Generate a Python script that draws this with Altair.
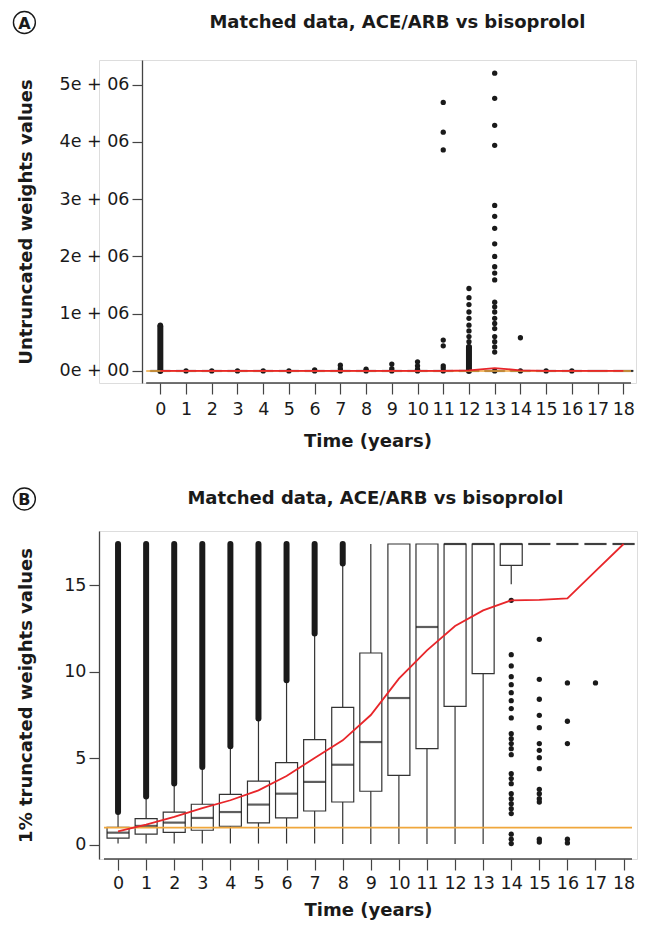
import altair as alt
import pandas as pd

years = list(range(19))

# ---------------- Panel B: 1% truncated weights (box statistics) ----------------
b_q1 = [0.40, 0.62, 0.73, 0.85, 1.08, 1.27, 1.56, 1.96, 2.48, 3.10, 4.02, 5.56, 8.00, 9.89, 16.14, 17.37, 17.37, 17.37, 17.37]
b_med = [0.71, 1.10, 1.29, 1.56, 1.90, 2.33, 2.96, 3.64, 4.63, 5.94, 8.48, 12.58, 17.37, 17.37, 17.37, 17.37, 17.37, 17.37, 17.37]
b_q3 = [1.02, 1.52, 1.90, 2.35, 2.92, 3.69, 4.75, 6.08, 7.94, 11.08, 17.37, 17.37, 17.37, 17.37, 17.37, 17.37, 17.37, 17.37, 17.37]
b_wlo = [0.08, 0.08, 0.08, 0.08, 0.08, 0.08, 0.08, 0.08, 0.06, 0.05, 0.05, 0.05, 0.05, 0.05, 15.04, 17.37, 17.37, 17.37, 17.37]
b_whi = [1.81, 2.71, 3.48, 4.40, 5.60, 7.19, 9.41, 12.10, 16.10, 17.37, 17.37, 17.37, 17.37, 17.37, 17.37, 17.37, 17.37, 17.37, 17.37]
b_mean = [0.79, 1.17, 1.62, 2.13, 2.58, 3.15, 3.98, 5.02, 6.04, 7.50, 9.60, 11.23, 12.64, 13.54, 14.12, 14.15, 14.23, 15.80, 17.37]

# dense outlier runs (years 0-8): from lower end up to the truncation value
b_band_year = [0, 1, 2, 3, 4, 5, 6, 7, 8]
b_band_lo = [1.90, 2.80, 3.55, 4.50, 5.70, 7.30, 9.50, 12.20, 16.25]
b_band_hi = [17.37, 17.37, 17.37, 17.37, 17.37, 17.37, 17.37, 17.37, 17.37]

# individual outliers
b_out14 = [14.12, 10.98, 10.33, 9.71, 9.25, 8.79, 8.33, 7.87, 7.33, 6.42, 6.13, 5.85, 5.56, 5.21,
           4.11, 3.83, 3.54, 2.96, 2.67, 2.38, 2.09, 1.81, 0.62, 0.33, 0.08]
b_out15 = [11.87, 9.56, 8.41, 7.48, 6.77, 5.85, 5.46, 5.04, 4.40, 3.21, 2.96, 2.67, 2.48, 0.33, 0.17]
b_out16 = [9.35, 7.14, 5.85, 0.33, 0.12]
b_out17 = [9.35]

# ---------------- Panel A: untruncated weights (millions) ----------------
a_mean = [0.0, 0.0, 0.0, 0.0, 0.0, 0.0, 0.0, 0.0, 0.0, 0.0, 0.0, 0.003, 0.012, 0.05, 0.012, 0.0, 0.0, 0.0, 0.0]
a_band_year = [0, 12]
a_band_lo = [0.0, 0.0]
a_band_hi = [0.78, 0.42]
a_out0 = [0.80]
a_out1 = [0.0]
a_out2 = [0.0]
a_out3 = [0.0]
a_out4 = [0.0]
a_out5 = [0.0]
a_out6 = [0.02, 0.0]
a_out7 = [0.10, 0.04, 0.0]
a_out8 = [0.03, 0.0]
a_out9 = [0.12, 0.04, 0.0]
a_out10 = [0.16, 0.09, 0.03, 0.0]
a_out11 = [4.69, 4.17, 3.86, 0.54, 0.44, 0.09, 0.05, 0.0]
a_out12 = [1.44, 1.28, 1.16, 1.03, 0.92, 0.80, 0.70, 0.60, 0.51, 0.42]
a_out13 = [5.20, 4.76, 4.29, 3.94, 2.89, 2.70, 2.49, 2.22, 2.00, 1.82, 1.71, 1.59, 1.20, 1.12,
           1.03, 0.92, 0.83, 0.74, 0.60, 0.51, 0.42, 0.33, 0.0]
a_out14 = [0.58, 0.0]
a_out15 = [0.0]
a_out16 = [0.0]

title_text = "Matched data, ACE/ARB vs bisoprolol"

# ---------------- tables ----------------
df_b = pd.DataFrame({"year": years, "q1": b_q1, "med": b_med, "q3": b_q3,
                     "wlo": b_wlo, "whi": b_whi, "mean": b_mean})
df_b_band = pd.DataFrame({"year": b_band_year, "lo": b_band_lo, "hi": b_band_hi})
b_outs = {14: b_out14, 15: b_out15, 16: b_out16, 17: b_out17}
df_b_out = pd.DataFrame([{"year": k, "v": v} for k, vs in b_outs.items() for v in vs])

df_a = pd.DataFrame({"year": years, "q1": [v / 1e6 for v in b_q1], "med": [v / 1e6 for v in b_med],
                     "q3": [v / 1e6 for v in b_q3], "mean": a_mean})
df_a_band = pd.DataFrame({"year": a_band_year, "lo": a_band_lo, "hi": a_band_hi})
a_outs = {0: a_out0, 1: a_out1, 2: a_out2, 3: a_out3, 4: a_out4, 5: a_out5, 6: a_out6, 7: a_out7,
          8: a_out8, 9: a_out9, 10: a_out10, 11: a_out11, 12: a_out12, 13: a_out13, 14: a_out14,
          15: a_out15, 16: a_out16}
df_a_out = pd.DataFrame([{"year": k, "v": v} for k, vs in a_outs.items() for v in vs])

FONT = "DejaVu Sans"
INK = "#1a1a1a"
AX = "#444444"
RED = "#E8262A"
ORANGE = "#F0A73C"
LFS = 17.5   # tick labels
TFS = 18     # axis titles / chart titles


def x_axis(label_pad, title_pad):
    return alt.Axis(values=years, title="Time (years)", tickSize=11, tickWidth=1.2, tickColor=AX,
                    domain=False, labelFontSize=LFS, labelPadding=label_pad,
                    titleFontSize=TFS, titleFontWeight="bold", titlePadding=title_pad, grid=False,
                    labelOverlap=False, labelFlush=False, labelColor=INK, titleColor=INK,
                    format="d")


def panel(df, df_band, df_out, xdom, xline, ydom, W, H, yaxis, box_px, letter, circ_dx, circ_dy,
          title_dx, title_dy, ref, label_pad, title_pad):
    X = lambda f: alt.X(f"{f}:Q", scale=alt.Scale(domain=xdom, nice=False, zero=False),
                        axis=x_axis(label_pad, title_pad))
    Y = lambda f: alt.Y(f"{f}:Q", scale=alt.Scale(domain=ydom, nice=False, zero=False), axis=yaxis)
    base = alt.Chart(df)
    layers = []
    if "wlo" in df.columns:
        layers.append(base.mark_rule(color="#333333", strokeWidth=1.2).encode(
            x=X("year"), y=Y("wlo"), y2="whi"))
    layers.append(base.mark_bar(size=box_px, fill="white", stroke="#333333", strokeWidth=1.2).encode(
        x=X("year"), y=Y("q1"), y2="q3"))
    layers.append(base.mark_tick(orient="horizontal", size=box_px, thickness=2.2, color=INK).encode(
        x=X("year"), y=Y("med")))
    layers.append(alt.Chart(df_band).mark_rule(color=INK, strokeWidth=6, strokeCap="round").encode(
        x=X("year"), y=Y("lo"), y2="hi"))
    layers.append(alt.Chart(df_out).mark_circle(size=28, color=INK, opacity=1).encode(
        x=X("year"), y=Y("v")))
    lines = pd.DataFrame({"x0": [xline[0]], "x1": [xline[1]], "h": [ref], "b": [ydom[0]]})
    # x-axis line (L-shaped frame bottom)
    layers.append(alt.Chart(lines).mark_rule(color=AX, strokeWidth=1.3).encode(
        x=X("x0"), x2="x1", y=Y("b")))
    # reference line at weight = 1
    layers.append(alt.Chart(lines).mark_rule(color=ORANGE, strokeWidth=1.6).encode(
        x=X("x0"), x2="x1", y=Y("h")))
    layers.append(base.mark_line(color=RED, strokeWidth=1.8).encode(x=X("year"), y=Y("mean")))
    lab = pd.DataFrame({"t": [letter], "title": [title_text]})
    layers.append(alt.Chart(lab).mark_point(shape="circle", filled=False, size=480, color=INK,
                                            strokeWidth=1.4, opacity=1).encode(
        x=alt.value(circ_dx), y=alt.value(circ_dy)))
    layers.append(alt.Chart(lab).mark_text(font=FONT, fontSize=16, fontWeight="bold", color=INK,
                                           align="center", baseline="middle").encode(
        x=alt.value(circ_dx), y=alt.value(circ_dy + 1), text="t:N"))
    layers.append(alt.Chart(lab).mark_text(font=FONT, fontSize=TFS, fontWeight="bold", color=INK,
                                           align="center", baseline="middle").encode(
        x=alt.value(title_dx), y=alt.value(title_dy), text="title:N"))
    return alt.layer(*layers).properties(width=W, height=H)


PLOT_LEFT = 99.6  # page x of the shared plot-area left edge

# Panel A: its frame starts further right (y axis at x ~ 142.6), year 0 at x = 157
WA, HA = 537, 323
yaxis_a = alt.Axis(values=[0, 1, 2, 3, 4, 5],
                   labelExpr="datum.value == 0 ? '0e + 00' : datum.value + 'e + 06'",
                   title="Untruncated weights values", titleX=-107, offset=-43, tickSize=10,
                   tickWidth=1.2, tickColor=AX, domainColor=AX, domainWidth=1.3, labelFontSize=LFS,
                   labelPadding=3, titleFontSize=TFS, titleFontWeight="bold", grid=False,
                   labelColor=INK, titleColor=INK)
chart_a = panel(df_a, df_a_band, df_a_out, [-2.19, 18.3], [-0.55, 18.3], [-0.21, 5.43], WA, HA,
                yaxis_a, 20, "A", 25 - PLOT_LEFT, -37.5, 398 - PLOT_LEFT, -37.5, 1e-6, 6, 15)

# Panel B
WB, HB = 538, 328
yaxis_b = alt.Axis(values=[0, 5, 10, 15], title="1% truncated weights values", titleX=-64,
                   tickSize=10, tickWidth=1.2, tickColor=AX, domainColor=AX, domainWidth=1.3,
                   labelFontSize=LFS, labelPadding=3, titleFontSize=TFS, titleFontWeight="bold",
                   grid=False, labelColor=INK, titleColor=INK)
chart_b = panel(df_b, df_b_band, df_b_out, [-0.5, 18.3], [-0.5, 18.3], [-0.81, 18.12], WB, HB,
                yaxis_b, 22, "B", 25 - PLOT_LEFT, -32, 376 - PLOT_LEFT, -32, 1.0, 4, 10)

chart = alt.concat(chart_a, chart_b, columns=1, spacing=33, bounds="full", align="each").properties(
    padding={"left": 2, "top": 0, "right": 0, "bottom": 0}
).configure_view(stroke=None).configure(font=FONT)

chart.save("out.html", embed_options={"renderer": "svg", "actions": False})
